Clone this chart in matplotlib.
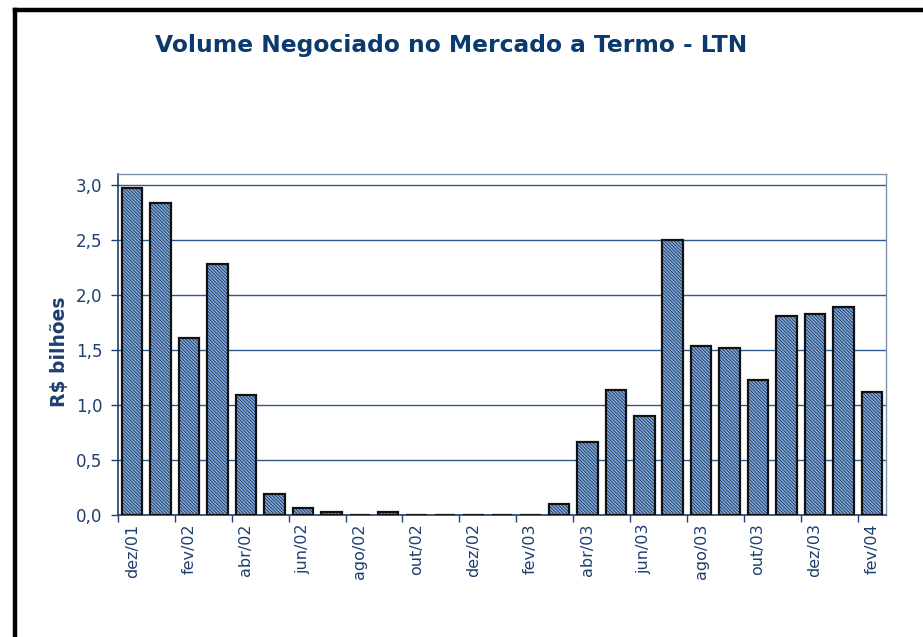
import matplotlib.pyplot as plt
import numpy as np
from matplotlib.lines import Line2D

months = ['dez/01', 'jan/02', 'fev/02', 'mar/02', 'abr/02', 'mai/02', 'jun/02',
          'jul/02', 'ago/02', 'set/02', 'out/02', 'nov/02', 'dez/02', 'jan/03',
          'fev/03', 'mar/03', 'abr/03', 'mai/03', 'jun/03', 'jul/03', 'ago/03',
          'set/03', 'out/03', 'nov/03', 'dez/03', 'jan/04', 'fev/04']
volume = [2.97, 2.84, 1.61, 2.28, 1.09, 0.19, 0.06, 0.025, 0.0, 0.025, 0.0, 0.0,
          0.0, 0.0, 0.0, 0.10, 0.66, 1.14, 0.90, 2.50, 1.54, 1.52, 1.23, 1.81,
          1.83, 1.89, 1.12]
yticks = [0.0, 0.5, 1.0, 1.5, 2.0, 2.5, 3.0]
ytick_labels = ['0,0', '0,5', '1,0', '1,5', '2,0', '2,5', '3,0']

navy = '#1F3F6E'
plt.rcParams['font.family'] = 'DejaVu Sans'
plt.rcParams['hatch.linewidth'] = 0.45
plt.rcParams['hatch.color'] = '#1F3A66'

fig = plt.figure(figsize=(9.23, 6.37), dpi=100)
ax = fig.add_axes([0.1278, 0.1915, 0.8322, 0.5353])

x = np.arange(len(months))
ax.bar(x, volume, width=0.72, color='#78A8E4', edgecolor='#111111',
       linewidth=1.6, hatch='\\' * 10, zorder=3)

ax.set_xlim(-0.5, len(months) - 0.5)
ax.set_ylim(0, 3.1)
ax.set_yticks(yticks)
ax.set_yticklabels(ytick_labels, color=navy, fontsize=12)
ax.yaxis.grid(True, color='#2E5A8A', linewidth=1.0, zorder=0)

ax.set_xticks(x[::2])
ax.set_xticklabels(months[::2], rotation=90, color=navy, fontsize=11.5)
ax.set_xticks(np.arange(-0.5, len(months), 2), minor=True)
ax.tick_params(axis='x', which='major', length=0, pad=6)
ax.tick_params(axis='x', which='minor', length=5, color=navy, width=1)
ax.tick_params(axis='y', length=5, color=navy, width=1, pad=6)

for side in ['left', 'bottom']:
    ax.spines[side].set_color(navy)
    ax.spines[side].set_linewidth(1.2)
for side in ['top', 'right']:
    ax.spines[side].set_color('#7F93B0')
    ax.spines[side].set_linewidth(1.0)

ax.set_ylabel('R\\$ bilhões', color=navy, fontsize=13.5, fontweight='bold')
ax.yaxis.set_label_coords(-0.064, 0.478)

fig.text(0.489, 0.929, 'Volume Negociado no Mercado a Termo - LTN', ha='center',
         va='center', fontsize=16.8, fontweight='bold', color='#0B3A6E')

# moldura (apenas topo e esquerda visíveis)
fig.add_artist(Line2D([15 / 923, 15 / 923], [0, 1 - 10 / 637], transform=fig.transFigure,
                      color='black', linewidth=3.2))
fig.add_artist(Line2D([15 / 923, 1], [1 - 10 / 637, 1 - 10 / 637], transform=fig.transFigure,
                      color='black', linewidth=3.2))

fig.savefig('out.png', dpi=100)
